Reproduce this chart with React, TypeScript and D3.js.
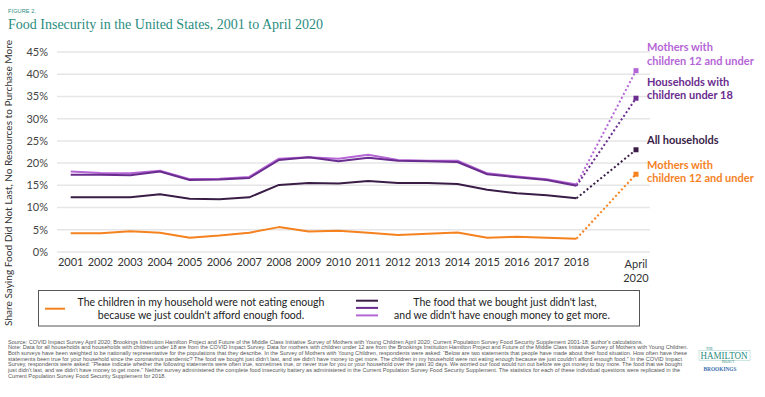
import React from "react";
import * as d3 from "d3";

const years = [2001, 2002, 2003, 2004, 2005, 2006, 2007, 2008, 2009, 2010, 2011, 2012, 2013, 2014, 2015, 2016, 2017, 2018];
const aprilX = 2020;
const yTicks = [0, 5, 10, 15, 20, 25, 30, 35, 40, 45];

const childrenNotEating = [4.2, 4.2, 4.65, 4.35, 3.2, 3.7, 4.35, 5.6, 4.6, 4.8, 4.35, 3.8, 4.1, 4.4, 3.2, 3.45, 3.2, 3.0];
const childrenNotEatingApril = 17.5;
const allHouseholds = [12.3, 12.3, 12.3, 13.0, 12.0, 11.85, 12.3, 15.1, 15.5, 15.4, 16.0, 15.5, 15.5, 15.3, 14.0, 13.2, 12.75, 12.1];
const allHouseholdsApril = 23.0;
const householdsKids = [17.4, 17.4, 17.25, 18.1, 16.2, 16.3, 16.65, 20.7, 21.3, 20.4, 21.2, 20.55, 20.4, 20.25, 17.5, 16.8, 16.2, 14.9];
const householdsKidsApril = 34.6;
const mothers = [18.1, 17.8, 17.7, 18.3, 16.4, 16.5, 16.9, 21.0, 21.3, 21.0, 21.9, 20.7, 20.55, 20.55, 17.7, 17.0, 16.35, 15.2];
const mothersApril = 40.8;

const ORANGE = "#F5821F";
const DARK = "#3A1D47";
const MED = "#6A2C8E";
const LIGHT = "#B566D6";
const TEAL = "#2B8C80";

const footnotes = [
  "Source: COVID Impact Survey April 2020; Brookings Institution Hamilton Project and Future of the Middle Class Initiative Survey of Mothers with Young Children April 2020; Current Population Survey Food Security Supplement 2001-18; author's calculations.",
  "Note: Data for all households and households with children under 18 are from the COVID Impact Survey. Data for mothers with children under 12 are from the Brookings Institution Hamilton Project and Future of the Middle Class Initiative Survey of Mothers with Young Children.",
  "Both surveys have been weighted to be nationally representative for the populations that they describe. In the Survey of Mothers with Young Children, respondents were asked: \u201cBelow are two statements that people have made about their food situation. How often have these",
  "statements been true for your household since the coronavirus pandemic? The food we bought just didn't last, and we didn't have money to get more. The children in my household were not eating enough because we just couldn't afford enough food.\u201d In the COVID Impact",
  "Survey, respondents were asked: \u201cPlease indicate whether the following statements were often true, sometimes true, or never true for you or your household over the past 30 days. We worried our food would run out before we got money to buy more. The food that we bought",
  "just didn't last, and we didn't have money to get more.\u201d Neither survey administered the complete food insecurity battery as administered in the Current Population Survey Food Security Supplement. The statistics for each of these individual questions were replicated in the",
  "Current Population Survey Food Security Supplement for 2018.",
];
const footnoteWidths = [635, 680, 679, 674, 674, 672, 158];

export default function App() {
  const x = d3.scaleLinear().domain([2001, 2020]).range([70.7, 636]);
  const y = d3.scaleLinear().domain([0, 45]).range([252, 52]);
  const line = d3
    .line<number>()
    .x((_, i) => x(years[i]))
    .y((d) => y(d));

  const series = [
    { vals: mothers, april: mothersApril, color: LIGHT },
    { vals: householdsKids, april: householdsKidsApril, color: MED },
    { vals: allHouseholds, april: allHouseholdsApril, color: DARK },
    { vals: childrenNotEating, april: childrenNotEatingApril, color: ORANGE },
  ];

  const sans = "Lato, 'Open Sans', sans-serif";

  return (
    <div style={{ position: "absolute", left: 0, top: 0 }}>
      <svg width={765} height={397} style={{ display: "block", background: "#fff" }}>
        <text x={8} y={13.3} fontFamily="'Liberation Sans', Arial, sans-serif" fontSize={5.6} fill={TEAL} textLength={28}>
          FIGURE 2.
        </text>
        <text x={8} y={29} fontFamily="'Liberation Serif', 'Times New Roman', serif" fontSize={14} fill={TEAL} textLength={315} lengthAdjust="spacingAndGlyphs">
          Food Insecurity in the United States, 2001 to April 2020
        </text>

        {/* gridlines */}
        {yTicks.map((t) => (
          <line key={t} x1={57} x2={650} y1={y(t)} y2={y(t)} stroke="#e6e6e6" strokeWidth={1.5} />
        ))}
        {yTicks.map((t) => (
          <text key={"l" + t} x={48} y={y(t)} dy="0.35em" textAnchor="end" fontFamily={sans} fontSize={11} fill="#444">
            {t}%
          </text>
        ))}
        {years.map((yr) => (
          <text key={yr} x={x(yr)} y={266} textAnchor="middle" fontFamily={sans} fontSize={11} fill="#333">
            {yr}
          </text>
        ))}
        <text x={x(aprilX)} y={268} textAnchor="middle" fontFamily={sans} fontSize={11} fill="#333">
          April
        </text>
        <text x={x(aprilX)} y={282} textAnchor="middle" fontFamily={sans} fontSize={11} fill="#333">
          2020
        </text>

        <text
          transform={`translate(11.5,183) rotate(-90)`}
          textAnchor="middle"
          fontFamily={sans}
          fontSize={10}
          fill="#333"
          textLength={286}
          lengthAdjust="spacingAndGlyphs"
        >
          Share Saying Food Did Not Last, No Resources to Purchase More
        </text>

        {/* dotted connectors */}
        {series.map((s, i) => (
          <line
            key={"d" + i}
            x1={x(2018)}
            y1={y(s.vals[s.vals.length - 1])}
            x2={x(aprilX)}
            y2={y(s.april)}
            stroke={s.color}
            strokeWidth={2}
            strokeDasharray="2 2.4"
          />
        ))}
        {/* solid lines */}
        {series.map((s, i) => (
          <path key={"p" + i} d={line(s.vals) || ""} fill="none" stroke={s.color} strokeWidth={2} strokeLinejoin="round" />
        ))}
        {series.map((s, i) => (
          <rect key={"m" + i} x={x(aprilX) - 2.5} y={y(s.april) - 2.5} width={5} height={5} fill={s.color} />
        ))}

        {/* right labels */}
        <g fontFamily={sans} fontWeight={700} fontSize={11}>
          <text x={647} y={50.5} fill={LIGHT}>Mothers with</text>
          <text x={647} y={64.5} fill={LIGHT}>children 12 and under</text>
          <text x={647} y={86} fill={MED}>Households with</text>
          <text x={647} y={99} fill={MED}>children under 18</text>
          <text x={647} y={144} fill={DARK}>All households</text>
          <text x={647} y={169} fill={ORANGE}>Mothers with</text>
          <text x={647} y={182.3} fill={ORANGE}>children 12 and under</text>
        </g>

        {/* legend */}
        <rect x={38.5} y={290.5} width={601} height={35.5} fill="none" stroke="#555" strokeWidth={1} />
        <line x1={45} x2={65} y1={308.7} y2={308.7} stroke={ORANGE} strokeWidth={2} />
        <g fontFamily={sans} fontSize={10.5} fill="#222" textAnchor="middle">
          <text x={201} y={306.3}>The children in my household were not eating enough</text>
          <text x={201} y={319.3}>because we just couldn't afford enough food.</text>
          <text x={505} y={306.3}>The food that we bought just didn't last,</text>
          <text x={502} y={319.3}>and we didn't have enough money to get more.</text>
        </g>
        <line x1={356} x2={378} y1={300.7} y2={300.7} stroke={DARK} strokeWidth={2} />
        <line x1={356} x2={378} y1={307.9} y2={307.9} stroke={MED} strokeWidth={2} />
        <line x1={356} x2={378} y1={315.4} y2={315.4} stroke={LIGHT} strokeWidth={2} />

        {/* footnotes */}
        <g fontFamily="'Liberation Sans', Arial, sans-serif" fontSize={5.2} fill="#555">
          {footnotes.map((f, i) => (
            <text key={i} x={8} y={343.5 + i * 5.7} textLength={footnoteWidths[i]} lengthAdjust="spacingAndGlyphs">
              {f}
            </text>
          ))}
        </g>

        {/* logo */}
        <g fontFamily="'Liberation Serif', 'Times New Roman', serif" textAnchor="middle">
          <text x={706} y={350} fontSize={3.5} fill={TEAL} textAnchor="start">THE</text>
          <rect x={699} y={350.5} width={51} height={10} fill="none" stroke="#9fcfc8" strokeWidth={0.5} />
          <text x={724} y={358.7} fontSize={9.5} fill={TEAL} textLength={47} lengthAdjust="spacingAndGlyphs">HAMILTON</text>
          <text x={728} y={363} fontSize={3} fill={TEAL}>PROJECT</text>
          <text x={720} y={371} fontSize={7} fontWeight={700} fill="#3a6fb0" textLength={33} lengthAdjust="spacingAndGlyphs">BROOKINGS</text>
        </g>
      </svg>
    </div>
  );
}
